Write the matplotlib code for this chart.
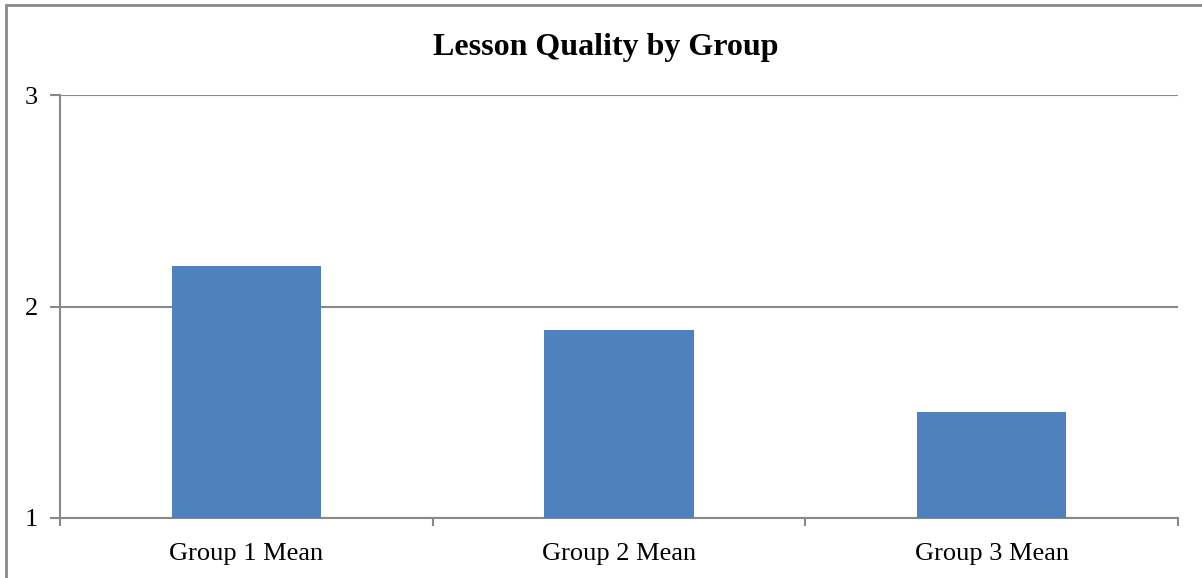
import matplotlib.pyplot as plt
from matplotlib.patches import Rectangle

groups = ["Group 1 Mean", "Group 2 Mean", "Group 3 Mean"]
means = [2.19, 1.89, 1.50]

plt.rcParams['font.family'] = ['Liberation Serif', 'DejaVu Serif']

fig = plt.figure(figsize=(12.02, 5.78), dpi=100)
W, H = 1202, 578
ax = fig.add_axes([60 / W, 1 - 518 / H, (1178 - 60) / W, (518 - 95) / H])

gray = "#898989"
x = range(len(groups))
ax.bar(x, [m - 1 for m in means], bottom=1, width=0.4, color="#4F81BD", zorder=3)

ax.set_xlim(-0.5, len(groups) - 0.5)
ax.set_ylim(1, 3)
ax.set_yticks([1, 2, 3])
ax.set_xticks(x)
ax.set_xticklabels(groups, fontsize=19)
ax.set_xticks([-0.5, 0.5, 1.5, 2.5], minor=True)
ax.tick_params(axis='x', which='major', length=0, pad=18)
ax.tick_params(axis='x', which='minor', length=6, color=gray, width=1.5)
ax.tick_params(axis='y', length=7, color=gray, width=1.5, labelsize=19, pad=9)
ax.grid(axis='y', color=gray, linewidth=1.5, zorder=0)

for s in ['top', 'right']:
    ax.spines[s].set_visible(False)
for s in ['left', 'bottom']:
    ax.spines[s].set_color(gray)
    ax.spines[s].set_linewidth(1.5)

fig.text(606 / W, 1 - 47 / H, "Lesson Quality by Group", ha='center', va='center',
         fontsize=23, fontweight='bold')

fig.patches.append(Rectangle((6 / W, -0.1), 1.2, 1 - 5 / H + 0.1, transform=fig.transFigure,
                             fill=False, edgecolor=gray, linewidth=2))

fig.savefig("out.png", dpi=100)
